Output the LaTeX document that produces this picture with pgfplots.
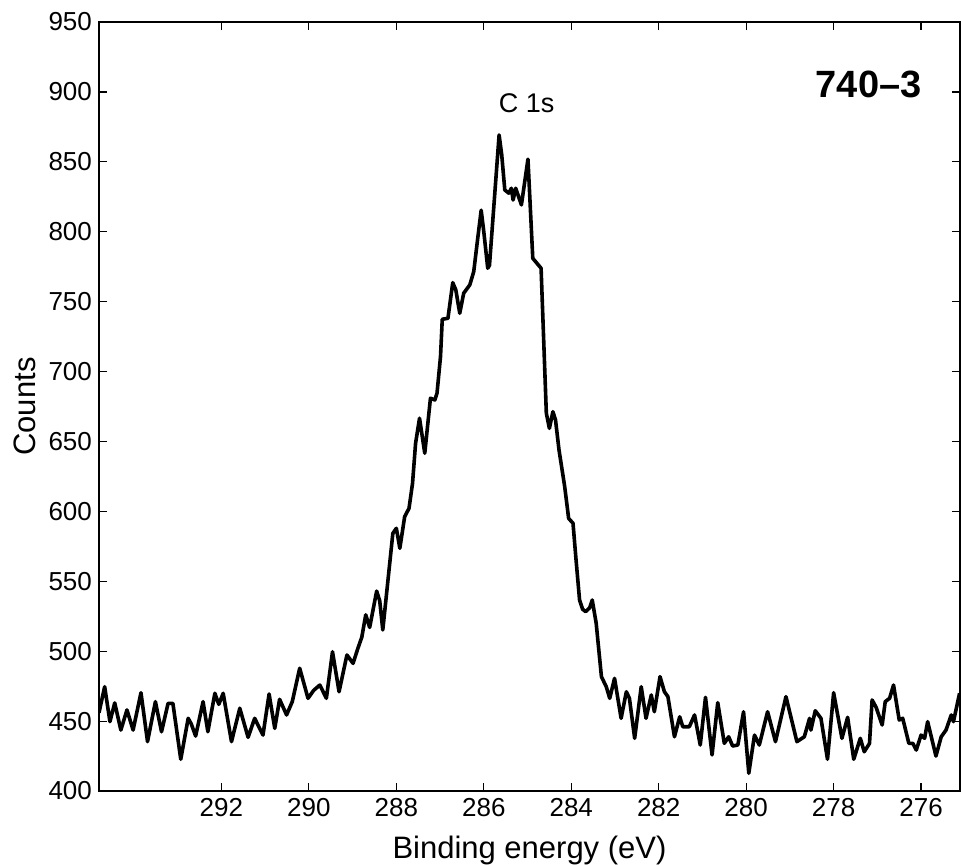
\documentclass[border=0pt]{standalone}
\usepackage{fontspec}
\setmainfont{Liberation Sans}
\usepackage{pgfplots}
\pgfplotsset{compat=1.18}

\begin{document}
\begin{tikzpicture}
\path[use as bounding box] (-49.5pt,-36.5pt) rectangle (431pt,395.5pt);
\begin{axis}[
    scale only axis,
    width=430.5pt, height=384.5pt,
    x dir=reverse,
    xmin=275.11, xmax=294.8,
    ymin=400, ymax=950,
    xtick={276,278,...,292},
    ytick={400,450,...,950},
    tick align=inside,
    major tick length=4pt,
    axis line style={line width=0.8pt},
    tick style={line width=0.6pt, black},
    ticklabel style={font=\fontsize{13}{15}\selectfont},
    /pgf/number format/assume math mode=true,
    /pgf/number format/1000 sep={},
    xlabel={Binding energy (eV)},
    ylabel={Counts},
    label style={font=\fontsize{15.5}{18}\selectfont},
    xlabel style={at={(axis description cs:0.5,-0.0767)}, anchor=center},
    ylabel style={at={(axis description cs:-0.0859,0.5)}, anchor=center},
    clip=true,
]
\addplot[black, line width=1.8pt, line join=round] coordinates {
(294.80,456) (294.67,474.6) (294.55,449.6) (294.44,463) (294.30,443.6)
(294.16,458) (294.02,443.6) (293.84,470.3) (293.69,435.3) (293.51,463.9)
(293.37,442.4) (293.22,462.7) (293.11,462.7) (292.93,422.7) (292.76,452)
(292.69,448) (292.59,439.3) (292.42,463.9) (292.31,442.4) (292.15,469.9)
(292.06,462) (291.96,469.9) (291.77,435.3) (291.58,459.2) (291.39,438.4)
(291.24,452) (291.05,440) (290.91,469.4) (290.78,444.8) (290.67,465.6)
(290.51,454.4) (290.38,463.9) (290.21,487.8) (290.02,466.3) (289.89,472)
(289.75,475.8) (289.60,466.3) (289.46,499.6) (289.31,471) (289.13,497.3)
(288.99,491.3) (288.88,502) (288.79,510) (288.70,526) (288.61,517)
(288.45,543) (288.38,536) (288.31,515.2) (288.08,584.3) (288.00,587.9)
(287.92,573.6) (287.81,596.2) (287.71,602.2) (287.63,620) (287.56,648.7)
(287.47,666.6) (287.35,641.6) (287.22,680.9) (287.12,679.7) (287.07,684.5)
(286.99,710.7) (286.95,737.4) (286.82,738.1) (286.71,763.6) (286.64,758.4)
(286.55,741.7) (286.46,756) (286.32,762) (286.23,771.5) (286.14,795)
(286.06,815.4) (286.00,800) (285.91,773.9) (285.87,776) (285.65,869.2)
(285.59,855) (285.52,829.9) (285.43,827.6) (285.37,831.1) (285.33,822.7)
(285.27,831.1) (285.14,819.2) (284.99,851.9) (284.88,781) (284.69,773.9)
(284.57,670.2) (284.50,659.4) (284.42,671.3) (284.36,665.4) (284.28,643.9)
(284.15,617.7) (284.06,595) (283.96,591.5) (283.89,565.2) (283.81,536.6)
(283.74,530) (283.67,528.3) (283.58,531) (283.52,536.6) (283.43,520)
(283.31,481.8) (283.20,474.6) (283.12,466.3) (283.01,480.6) (282.86,452)
(282.74,471) (282.67,466.3) (282.55,437.7) (282.40,474.6) (282.29,452)
(282.17,468.7) (282.10,456.7) (281.97,481.8) (281.87,471) (281.79,467.5)
(281.64,438.8) (281.52,453.1) (281.45,446) (281.30,446) (281.18,454.4)
(281.05,432.9) (280.93,467) (280.78,425.8) (280.65,463.2) (280.50,434.1)
(280.40,438.8) (280.31,432.2) (280.19,432.9) (280.06,456.7) (279.94,412.7)
(279.81,440) (279.70,432.9) (279.51,456.7) (279.33,435.3) (279.09,467.5)
(278.84,435.3) (278.67,438.8) (278.55,452) (278.52,443.6) (278.42,457.4)
(278.29,452) (278.14,422.7) (278.00,470.3) (277.81,437.7) (277.68,452.7)
(277.54,422.7) (277.39,437.7) (277.30,428.1) (277.18,434) (277.12,465.1)
(277.03,460) (276.89,447.2) (276.82,463.9) (276.72,466.3) (276.63,475.8)
(276.50,450.8) (276.42,452) (276.28,434.1) (276.19,434.1) (276.11,429.3)
(276.00,440) (275.92,437.7) (275.85,449.6) (275.66,425) (275.54,438.8)
(275.43,443.6) (275.31,454.4) (275.26,449.6) (275.12,469.9)
};
\node[font=\fontsize{13.5}{16}\selectfont] at (axis cs:285.02,892) {C 1s};
\node[font=\fontsize{19}{22}\selectfont\bfseries] at (axis cs:277.2,905.7) {740--3};
\end{axis}
\end{tikzpicture}
\end{document}
